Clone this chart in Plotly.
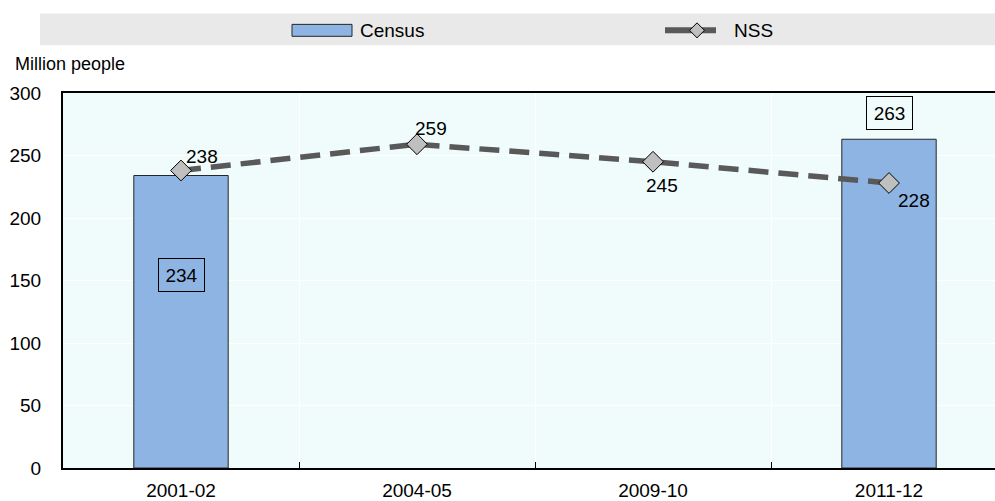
import plotly.graph_objects as go

categories = ["2001-02", "2004-05", "2009-10", "2011-12"]
census_cats = ["2001-02", "2011-12"]
census_vals = [234, 263]
nss_vals = [238, 259, 245, 228]
y_ticks = [0, 50, 100, 150, 200, 250, 300]

BAR_COLOR = "#8EB4E3"
LINE_COLOR = "#595959"
FONT = "Liberation Sans, Arial, sans-serif"
FS = 19

W, H = 995, 501
L, T, B = 63, 93, 470
PW = W - L
PH = B - T


def px(x):
    return (x - L) / PW


def py(y):
    return (B - y) / PH


fig = go.Figure()
fig.add_trace(go.Bar(
    x=census_cats, y=census_vals, name="Census", width=0.4,
    marker=dict(color=BAR_COLOR, line=dict(color="#262626", width=1)),
    showlegend=False,
))
fig.add_trace(go.Scatter(
    x=categories, y=nss_vals, name="NSS", mode="lines+markers",
    line=dict(color=LINE_COLOR, width=5.5, dash="20px,10px"),
    marker=dict(symbol="diamond", size=16, color="#BFBFBF",
                line=dict(color="#000000", width=1)),
    showlegend=False,
))

# NSS labels
nss_shifts = [(21, 14), (14, 16), (9, -24), (25, -17)]
for c, v, (dx, dy) in zip(categories, nss_vals, nss_shifts):
    fig.add_annotation(x=c, y=v, text=str(v), showarrow=False,
                       xshift=dx, yshift=dy,
                       font=dict(family=FONT, size=FS, color="#000"))

# Census boxed labels
census_shifts = [-99, 26]
for c, v, dy in zip(census_cats, census_vals, census_shifts):
    fig.add_annotation(x=c, y=v, text=str(v), showarrow=False, yshift=dy,
                       font=dict(family=FONT, size=FS, color="#000"),
                       bordercolor="#000", borderwidth=1, borderpad=3,
                       bgcolor="rgba(0,0,0,0)", width=39, height=26)

# Axis title
fig.add_annotation(xref="paper", yref="paper", x=px(13), y=py(64),
                   xanchor="left", yanchor="middle", text="Million people",
                   showarrow=False, font=dict(family=FONT, size=18, color="#000"))

# Legend (manual)
shapes = [
    dict(type="rect", xref="paper", yref="paper", x0=px(40), x1=px(995),
         y0=py(45), y1=py(13), fillcolor="#E9E9E9", line=dict(width=0),
         layer="below"),
    dict(type="rect", xref="paper", yref="paper", x0=px(292), x1=px(352),
         y0=py(36), y1=py(24), fillcolor=BAR_COLOR,
         line=dict(color="#262626", width=1)),
    dict(type="line", xref="paper", yref="paper", x0=px(665), x1=px(716),
         y0=py(30), y1=py(30), line=dict(color=LINE_COLOR, width=6)),
]
cx, cy, r = 697, 30, 7.5
path = (f"M {px(cx - r)} {py(cy)} L {px(cx)} {py(cy - r)} "
        f"L {px(cx + r)} {py(cy)} L {px(cx)} {py(cy + r)} Z")
shapes.append(dict(type="path", xref="paper", yref="paper", path=path,
                   fillcolor="#BFBFBF", line=dict(color="#000", width=1)))
fig.update_layout(shapes=shapes)
fig.add_annotation(xref="paper", yref="paper", x=px(358), y=py(30),
                   xanchor="left", yanchor="middle", text="Census",
                   showarrow=False, font=dict(family=FONT, size=FS, color="#000"))
fig.add_annotation(xref="paper", yref="paper", x=px(732), y=py(30),
                   xanchor="left", yanchor="middle", text="NSS",
                   showarrow=False, font=dict(family=FONT, size=FS, color="#000"))

fig.update_layout(
    width=W, height=H,
    margin=dict(l=L, r=0, t=T, b=H - B, pad=0),
    paper_bgcolor="white",
    plot_bgcolor="#F0FCFC",
    font=dict(family=FONT, size=FS, color="#000"),
    xaxis=dict(
        type="category", categoryorder="array", categoryarray=categories,
        range=[-0.5, PW / 236 - 0.5],
        tickson="boundaries", ticks="inside", ticklen=6, tickcolor="#000",
        showgrid=True, gridcolor="white", gridwidth=1,
        showline=True, linecolor="#000", linewidth=2, mirror=True,
        ticklabelstandoff=4,
        tickfont=dict(family=FONT, size=FS, color="#000"),
    ),
    yaxis=dict(
        range=[0, 300], tickvals=y_ticks,
        showgrid=True, gridcolor="white", gridwidth=1,
        showline=True, linecolor="#000", linewidth=2, mirror=False,
        ticks="", ticklabelstandoff=16, zeroline=False,
        tickfont=dict(family=FONT, size=FS, color="#000"),
    ),
)

fig.write_html(
    "out.html",
    config={"displayModeBar": False},
    post_script="document.body.style.margin='0';document.body.style.overflow='hidden';",
)
